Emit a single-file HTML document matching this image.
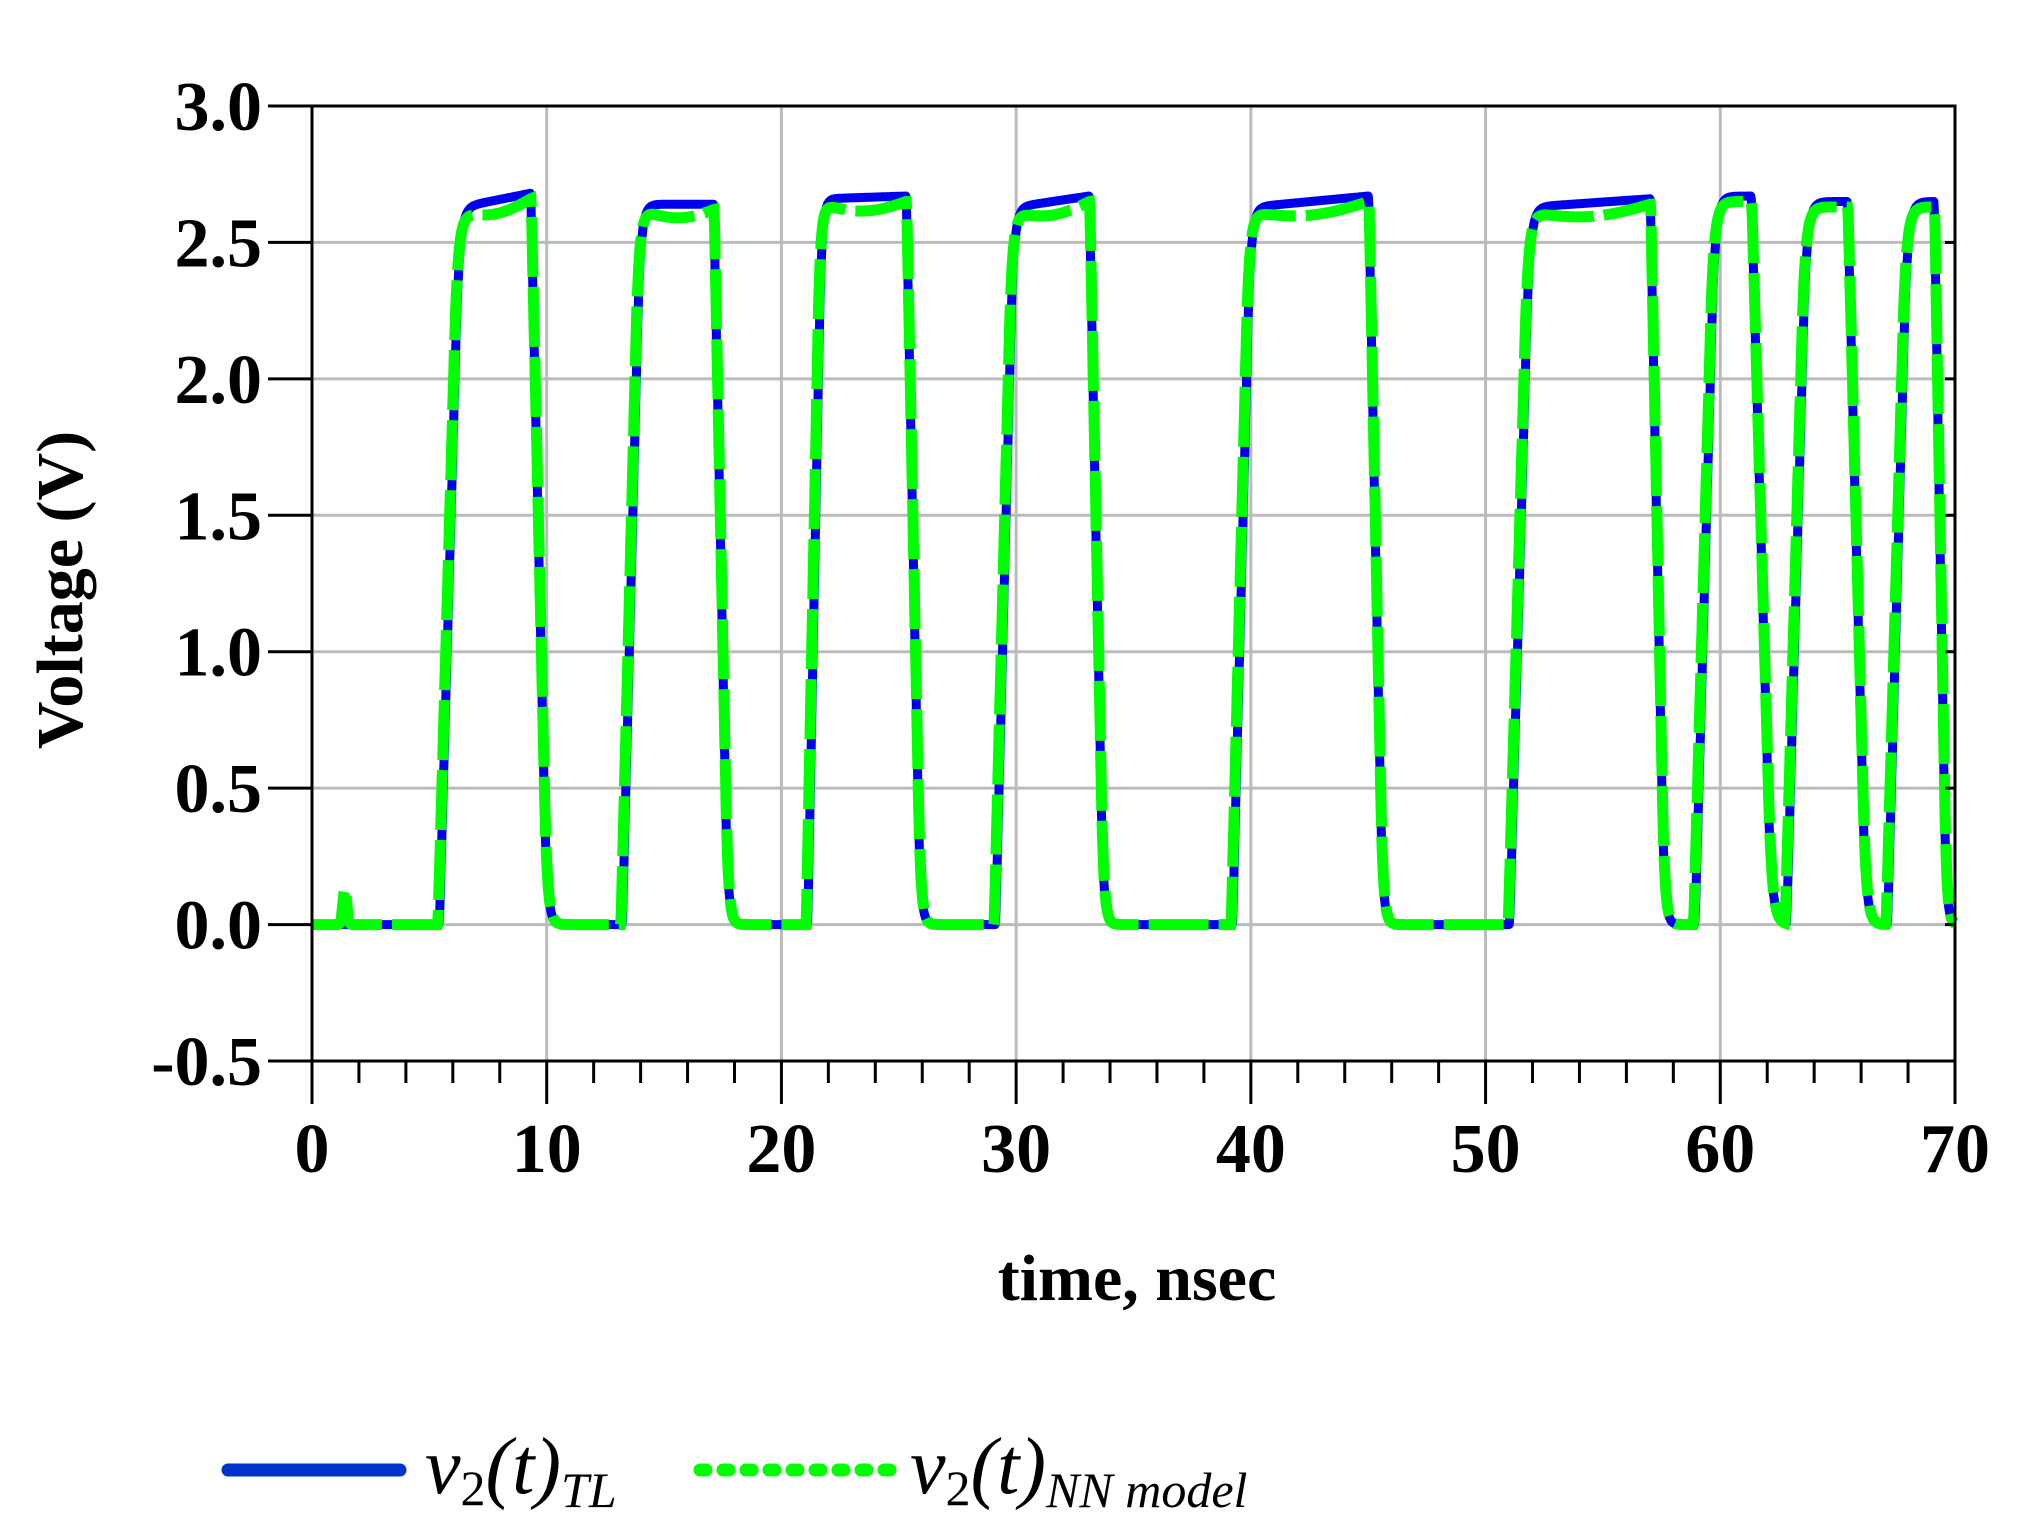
<!DOCTYPE html>
<html><head><meta charset="utf-8">
<style>
html,body{margin:0;padding:0;background:#fff;}
svg{display:block;}
text{font-family:"Liberation Serif",serif;}
</style></head>
<body>
<svg id="s" width="2021" height="1513" viewBox="0 0 2021 1513" xmlns="http://www.w3.org/2000/svg">
<g id="grid" stroke="#bbbbbb" stroke-width="3"></g>
<g id="curves"></g>
<g id="axes" stroke="#000" stroke-width="3" fill="none"></g>
<g id="labels" font-weight="bold" font-size="70" fill="#000"></g>
<text x="1137" y="1300" text-anchor="middle" font-weight="bold" font-size="66">time, nsec</text>
<text transform="translate(82,590) rotate(-90)" text-anchor="middle" font-weight="bold" font-size="66">Voltage (V)</text>
<line x1="228" y1="1470" x2="400" y2="1470" stroke="#0033cc" stroke-width="13" stroke-linecap="round"/>
<text x="425" y="1493" font-style="italic" font-size="80">v<tspan font-size="50" font-style="normal" dy="12">2</tspan><tspan dy="-12">(t)</tspan><tspan font-size="50" dy="14">TL</tspan></text>
<line x1="700" y1="1470" x2="900" y2="1470" stroke="#00ff00" stroke-width="13" stroke-linecap="round" stroke-dasharray="6 17"/>
<text x="910" y="1493" font-style="italic" font-size="80">v<tspan font-size="50" font-style="normal" dy="12">2</tspan><tspan dy="-12">(t)</tspan><tspan font-size="50" dy="14">NN model</tspan></text>
</svg>
<script>
var L=312,R=1955,T=106,B=1061;
function X(t){return L+(t/70)*(R-L);}
function Y(v){return B-(v+0.5)/3.5*(B-T);}
var ns="http://www.w3.org/2000/svg";
function el(p,n,a){var e=document.createElementNS(ns,n);for(var k in a)e.setAttribute(k,a[k]);document.getElementById(p).appendChild(e);return e;}
for(var t=10;t<70;t+=10)el("grid","line",{x1:X(t),x2:X(t),y1:T,y2:B});
for(var v=0;v<3;v+=0.5)el("grid","line",{x1:L,x2:R,y1:Y(v),y2:Y(v)});
el("axes","rect",{x:L,y:T,width:R-L,height:B-T});
for(var t=0;t<=70;t+=2){var maj=(t%10==0);el("axes","line",{x1:X(t),x2:X(t),y1:B,y2:B+(maj?43:22)});}
for(var v=-0.5;v<=3.01;v+=0.5){el("axes","line",{x1:268,x2:L,y1:Y(v),y2:Y(v)});el("axes","line",{x1:R-10,x2:R,y1:Y(v),y2:Y(v)});
 var tx=el("labels","text",{x:262,y:Y(v)+24,"text-anchor":"end"});tx.textContent=v.toFixed(1);}
for(var t=0;t<=70;t+=10){var tx=el("labels","text",{x:X(t),y:1172,"text-anchor":"middle"});tx.textContent=t;}
var P=[[5.4,6.4,9.3,10.1,2.63,2.68,0],[13.2,14.1,17.1,17.8,2.64,2.64,0],[21.1,21.8,25.3,26.0,2.66,2.67,0],[29.1,30.0,33.1,33.8,2.63,2.67,0],[39.2,40.1,45.0,45.7,2.63,2.67,0],[51.0,52.0,57.0,57.7,2.63,2.66,0],[58.9,59.9,61.3,62.3,2.67,2.67,1],[62.8,63.8,65.4,66.3,2.65,2.65,1],[67.1,68.1,69.1,69.7,2.65,2.65,1]];
function g(u){if(u<=0)return 0;var a=0.06;var v;
 if(u<a)v=u*u/(2*a);else if(u<0.85)v=u-a/2;else{var k=0.85-a/2;var r=1-k;v=k+r*(1-Math.exp(-(u-0.85)/r));}
 return Math.min(v,1);}
function val(t,green){var v=0;
 for(var i=0;i<P.length;i++){var p=P[i];var d=green?0.06:0;
  var rs=p[0]-d,re=p[1]-d,fs=p[2]+d*0.3,fe=p[3]+d*0.3;
  if(t<rs)continue;
  var h1=p[4],h2=p[5];if(green){h1-=0.02;h2-=0.02;}
  var hi=h1+(h2-h1)*Math.max(0,Math.min(1,(t-re)/(fs-re)));
  if(green&&!p[6]&&t>re&&t<fs){var m=(t-re)/(fs-re);hi-=0.03*Math.sin(Math.PI*m);}
  var vr=hi*g((t-rs)/(re-rs)/0.87);
  var vf=1-g((t-fs)/(fe-fs)/0.87);
  v+=vr*vf;
 }
 if(green)v+=0.13*Math.exp(-Math.pow((t-1.4)/0.12,2));
 return v;}
function path(g){var d="";for(var t=0;t<=70.001;t+=0.02){d+=(d?"L":"M")+X(t).toFixed(1)+","+Y(val(t,g)).toFixed(1);}return d;}
el("curves","path",{d:path(false),fill:"none",stroke:"#0000ee","stroke-width":9,"stroke-linejoin":"round"});
el("curves","path",{d:path(true),fill:"none",stroke:"#00ff00","stroke-width":11,"stroke-dasharray":"60 10"});
</script>
</body></html>
